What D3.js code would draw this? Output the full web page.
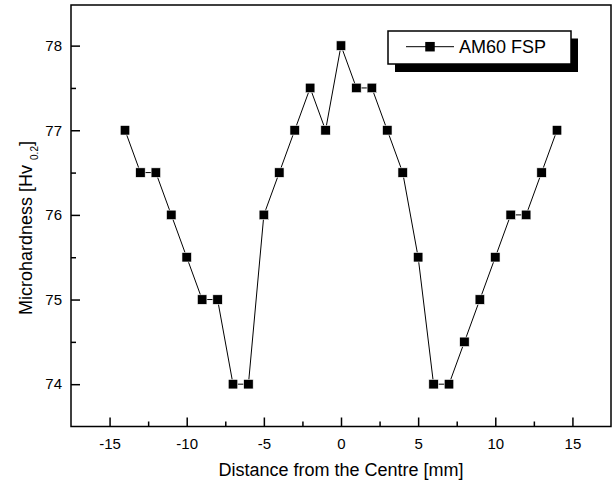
<!DOCTYPE html>
<html>
<head>
<meta charset="utf-8">
<script src="https://cdn.jsdelivr.net/npm/d3@7"></script>
<style>
  html, body { margin: 0; padding: 0; background: #fff; }
  svg { display: block; }
  text { font-family: Arial, "Liberation Sans", sans-serif; fill: #000; }
</style>
</head>
<body>
<svg id="chart" width="613" height="489"></svg>
<script>
// ---- data ----
const distance = [-14,-13,-12,-11,-10,-9,-8,-7,-6,-5,-4,-3,-2,-1,0,1,2,3,4,5,6,7,8,9,10,11,12,13,14];
const hardness = [77,76.5,76.5,76,75.5,75,75,74,74,76,76.5,77,77.5,77,78,77.5,77.5,77,76.5,75.5,74,74,74.5,75,75.5,76,76,76.5,77];
const seriesName = "AM60 FSP";
const xMajorTicks = [-15,-10,-5,0,5,10,15];
const xMinorTicks = [-12.5,-7.5,-2.5,2.5,7.5,12.5];
const yMajorTicks = [74,75,76,77,78];
const yMinorTicks = [74.5,75.5,76.5,77.5];
const xTitle = "Distance from the Centre [mm]";
const yTitleMain = "Microhardness [Hv";
const yTitleSub = "0.2";

// ---- layout ----
const L = 71, R = 611, T = 5, B = 426.5;
const svg = d3.select("#chart");

const x = d3.scaleLinear().domain([-17.5, 17.5]).range([L, R]);
const y = d3.scaleLinear().domain([73.5, 78.48]).range([B, T]);
const fmt = d => String(d);

// frame
svg.append("rect")
  .attr("x", L).attr("y", T).attr("width", R - L).attr("height", B - T)
  .attr("fill", "none").attr("stroke", "#000").attr("stroke-width", 1.5);

// x axis major
const gx = svg.append("g").attr("transform", `translate(0,${B})`)
  .call(d3.axisBottom(x).tickValues(xMajorTicks).tickSizeInner(-9).tickSizeOuter(0).tickPadding(12).tickFormat(fmt));
gx.select(".domain").remove();
gx.selectAll("line").attr("stroke-width", 1.5);
gx.selectAll("text").attr("font-size", 15);

const gxm = svg.append("g").attr("transform", `translate(0,${B})`)
  .call(d3.axisBottom(x).tickValues(xMinorTicks).tickSizeInner(-5).tickSizeOuter(0).tickFormat(""));
gxm.select(".domain").remove();
gxm.selectAll("line").attr("stroke-width", 1.5);

// y axis major
const gy = svg.append("g").attr("transform", `translate(${L},0)`)
  .call(d3.axisLeft(y).tickValues(yMajorTicks).tickSizeInner(-9).tickSizeOuter(0).tickPadding(9).tickFormat(fmt));
gy.select(".domain").remove();
gy.selectAll("line").attr("stroke-width", 1.5);
gy.selectAll("text").attr("font-size", 15);

const gym = svg.append("g").attr("transform", `translate(${L},0)`)
  .call(d3.axisLeft(y).tickValues(yMinorTicks).tickSizeInner(-5).tickSizeOuter(0).tickFormat(""));
gym.select(".domain").remove();
gym.selectAll("line").attr("stroke-width", 1.5);

// line
const line = d3.line().x((d, i) => x(distance[i])).y(d => y(d));
svg.append("path").datum(hardness)
  .attr("d", line).attr("fill", "none").attr("stroke", "#000").attr("stroke-width", 1);

// markers
const ms = 9.5;
svg.append("g").selectAll("rect").data(hardness).join("rect")
  .attr("x", (d, i) => x(distance[i]) - ms / 2)
  .attr("y", d => y(d) - ms / 2)
  .attr("width", ms).attr("height", ms)
  .attr("fill", "#000").attr("stroke", "#fff").attr("stroke-width", 0.6);

// axis titles
svg.append("text").attr("x", (L + R) / 2).attr("y", 476)
  .attr("text-anchor", "middle").attr("font-size", 18).text(xTitle);

const yt = svg.append("text")
  .attr("transform", "translate(32,315) rotate(-90)")
  .attr("text-anchor", "start").attr("font-size", 18);
yt.append("tspan").text(yTitleMain + " ");
yt.append("tspan").attr("font-size", 10).attr("dy", 6).text(yTitleSub);
yt.append("tspan").attr("dy", -6).text("]");

// legend
const lg = svg.append("g");
lg.append("rect").attr("x", 395).attr("y", 38.5).attr("width", 183).attr("height", 33.5).attr("fill", "#000");
lg.append("rect").attr("x", 388).attr("y", 31).attr("width", 183).attr("height", 33)
  .attr("fill", "#fff").attr("stroke", "#000").attr("stroke-width", 1.5);
lg.append("line").attr("x1", 406).attr("x2", 454).attr("y1", 46.7).attr("y2", 46.7)
  .attr("stroke", "#000").attr("stroke-width", 1);
lg.append("rect").attr("x", 430 - ms / 2).attr("y", 46.7 - ms / 2).attr("width", ms).attr("height", ms).attr("fill", "#000");
lg.append("text").attr("x", 459).attr("y", 53.3).attr("font-size", 18).text(seriesName);
</script>
</body>
</html>
